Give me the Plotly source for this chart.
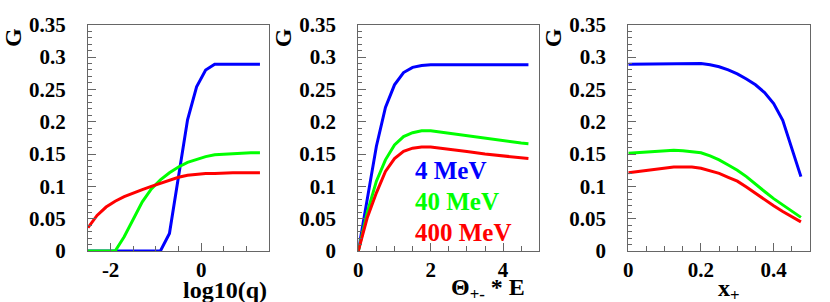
import plotly.graph_objects as go

# ---------------- data ----------------
# Panel 1: G vs log10(q)
logq = [-2.5, -2.3, -2.1, -1.9, -1.7, -1.5, -1.3, -1.1, -0.9, -0.7, -0.5, -0.3,
        -0.1, 0.1, 0.3, 0.5, 0.7, 0.9, 1.1, 1.3]
g1_4 = [0, 0, 0, 0, 0, 0, 0, 0, 0, 0.027, 0.115, 0.203,
        0.254, 0.280, 0.289, 0.289, 0.289, 0.289, 0.289, 0.289]
g1_40 = [0, 0, 0, 0, 0.022, 0.050, 0.076, 0.096, 0.110, 0.121, 0.130, 0.137,
         0.142, 0.146, 0.149, 0.150, 0.151, 0.151, 0.152, 0.152]
g1_400 = [0.036, 0.055, 0.068, 0.077, 0.084, 0.090, 0.095, 0.100, 0.105, 0.110, 0.114, 0.117,
          0.119, 0.120, 0.120, 0.121, 0.121, 0.121, 0.121, 0.121]

# Panel 2: G vs Theta*E
theta_e = [0, 0.25, 0.5, 0.75, 1.0, 1.25, 1.5, 1.75, 2.0, 2.5, 3.0, 3.5, 4.0, 4.5, 4.7]
g2_4 = [0, 0.083, 0.162, 0.222, 0.257, 0.276, 0.284, 0.287, 0.288, 0.288, 0.288, 0.288, 0.288, 0.288, 0.288]
g2_40 = [0, 0.060, 0.108, 0.141, 0.164, 0.177, 0.183, 0.186, 0.186, 0.182, 0.178, 0.174, 0.170, 0.167, 0.166]
g2_400 = [0, 0.052, 0.090, 0.123, 0.143, 0.154, 0.159, 0.161, 0.161, 0.158, 0.154, 0.150, 0.147, 0.144, 0.143]

# Panel 3: G vs x+
xplus = [0, 0.025, 0.05, 0.075, 0.1, 0.125, 0.15, 0.175, 0.2, 0.225, 0.25, 0.275,
         0.3, 0.325, 0.35, 0.375, 0.4, 0.425, 0.45, 0.475]
g3_4 = [0.289, 0.289, 0.289, 0.289, 0.289, 0.289, 0.289, 0.290, 0.290, 0.288, 0.285, 0.280,
        0.274, 0.266, 0.257, 0.245, 0.228, 0.202, 0.160, 0.115]
g3_40 = [0.151, 0.152, 0.153, 0.154, 0.155, 0.156, 0.155, 0.154, 0.152, 0.147, 0.141, 0.133,
         0.125, 0.115, 0.103, 0.092, 0.081, 0.071, 0.062, 0.052]
g3_400 = [0.121, 0.123, 0.125, 0.127, 0.129, 0.130, 0.130, 0.130, 0.128, 0.124, 0.120, 0.114,
          0.108, 0.099, 0.089, 0.080, 0.070, 0.061, 0.053, 0.045]

series_names = ["4 MeV", "40 MeV", "400 MeV"]
series_colors = ["#0000ff", "#00ff00", "#ff0000"]

y_tickvals = [0, 0.05, 0.1, 0.15, 0.2, 0.25, 0.3, 0.35]
y_ticktext = ["0", "0.05", "0.1", "0.15", "0.2", "0.25", "0.3", "0.35"]
x1_tickvals = [-2, 0]
x1_ticktext = ["-2", "0"]
x2_tickvals = [0, 2, 4]
x2_ticktext = ["0", "2", "4"]
x3_tickvals = [0, 0.2, 0.4]
x3_ticktext = ["0", "0.2", "0.4"]

# ---------------- figure ----------------
W, H = 830, 302
FONT = "Liberation Serif, Times New Roman, serif"
fig = go.Figure()

panels = [
    (logq, [g1_4, g1_40, g1_400], "x", "y"),
    (theta_e, [g2_4, g2_40, g2_400], "x2", "y2"),
    (xplus, [g3_4, g3_40, g3_400], "x3", "y3"),
]
for xs, ys_list, xa, ya in panels:
    for ys, name, col in zip(ys_list, series_names, series_colors):
        fig.add_trace(go.Scatter(x=xs, y=ys, mode="lines", name=name,
                                 line=dict(color=col, width=3),
                                 xaxis=xa, yaxis=ya, showlegend=False))

px_x = [(88, 269), (358.3, 539.3), (628.3, 810)]
y_dom = [1 - 251 / H, 1 - 24.7 / H]
x_ranges = [[-2.5, 1.5], [0, 5], [0, 0.5]]
x_ticks = [(x1_tickvals, x1_ticktext, 0.5), (x2_tickvals, x2_ticktext, 0.5),
           (x3_tickvals, x3_ticktext, 0.05)]

tickfont = dict(family=FONT, size=21, color="black", weight="bold")
linecol = "#666666"
layout = dict(width=W, height=H, margin=dict(l=0, r=0, t=0, b=0, pad=0, autoexpand=False),
              paper_bgcolor="white", plot_bgcolor="white", showlegend=False,
              template="none", font=dict(family=FONT, size=20, weight="bold"))
for i in range(3):
    sfx = "" if i == 0 else str(i + 1)
    tv, tt, mdt = x_ticks[i]
    layout["xaxis" + sfx] = dict(
        domain=[px_x[i][0] / W, px_x[i][1] / W], range=x_ranges[i],
        anchor="y" + sfx, showgrid=False, zeroline=False, automargin=False,
        showline=True, mirror=True, linecolor=linecol, linewidth=1,
        ticks="inside", ticklen=8, tickcolor=linecol, tickwidth=1,
        tickvals=tv, ticktext=tt, tickfont=tickfont, ticklabelstandoff=0,
        minor=dict(ticks="inside", ticklen=5, dtick=mdt, tick0=0,
                   tickcolor=linecol, showgrid=False),
    )
    layout["yaxis" + sfx] = dict(
        domain=y_dom, range=[0, 0.35], anchor="x" + sfx,
        showgrid=False, zeroline=False, automargin=False,
        showline=True, mirror=True, linecolor=linecol, linewidth=1,
        ticks="inside", ticklen=8, tickcolor=linecol, tickwidth=1,
        tickvals=y_tickvals, ticktext=y_ticktext, tickfont=tickfont,
        ticklabelstandoff=17,
        minor=dict(ticks="inside", ticklen=4, dtick=0.01, tick0=0,
                   tickcolor=linecol, showgrid=False),
    )
fig.update_layout(**layout)

def ann(text, x, y, size, color="black", xanchor="center", yanchor="middle", angle=0):
    fig.add_annotation(text=text, x=x / W, y=1 - y / H, xref="paper", yref="paper",
                       showarrow=False, xanchor=xanchor, yanchor=yanchor,
                       textangle=angle,
                       font=dict(family=FONT, size=size, color=color, weight="bold"))

# y titles "G"
for cx in [12.5, 282.8, 552.8]:
    ann("G", cx, 37.5, 24, angle=-90)

# x titles
ann("log10(q)", 269, 290, 24, xanchor="right")
ann("Θ<sub>+-</sub> * E", 527, 289, 24, xanchor="right")
ann("x<sub>+</sub>", 742, 290, 24, xanchor="right")

# legend texts
leg_y = [170, 201, 232]
for name, col, yy in zip(series_names, series_colors, leg_y):
    ann(name, 413, yy, 25, color=col, xanchor="left")

fig.write_html("out.html",
               config={"displayModeBar": False},
               post_script="document.body.style.margin='0px';document.body.style.overflow='hidden';")
